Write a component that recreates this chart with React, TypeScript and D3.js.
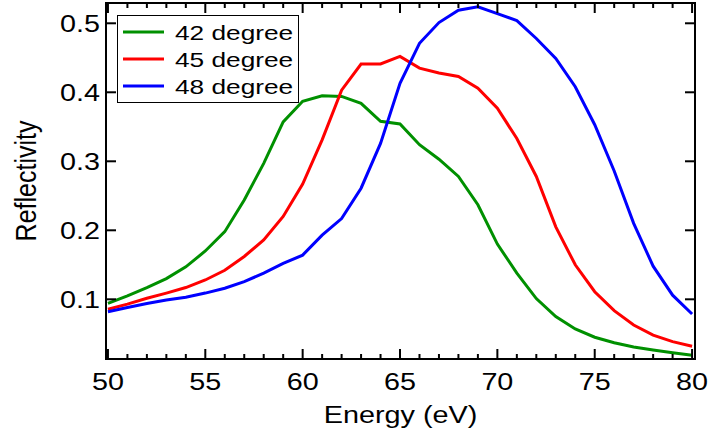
import React from 'react'
import * as d3 from 'd3'

// Data
const energy = [50, 51, 52, 53, 54, 55, 56, 57, 58, 59, 60, 61, 62, 63, 64, 65, 66, 67, 68, 69, 70, 71, 72, 73, 74, 75, 76, 77, 78, 79, 80]

const deg42 = [0.094, 0.105, 0.117, 0.13, 0.147, 0.17, 0.198, 0.244, 0.297, 0.357, 0.387, 0.395, 0.394, 0.384, 0.358, 0.354, 0.324, 0.303, 0.278, 0.237, 0.18, 0.138, 0.101, 0.075, 0.057, 0.045, 0.037, 0.031, 0.0265, 0.0226, 0.019]
const deg45 = [0.0855, 0.093, 0.1015, 0.109, 0.117, 0.128, 0.142, 0.162, 0.186, 0.22, 0.267, 0.331, 0.403, 0.441, 0.441, 0.452, 0.435, 0.428, 0.423, 0.406, 0.377, 0.333, 0.278, 0.205, 0.15, 0.111, 0.0835, 0.0628, 0.048, 0.0386, 0.032]
const deg48 = [0.082, 0.088, 0.094, 0.099, 0.103, 0.109, 0.116, 0.1255, 0.138, 0.152, 0.164, 0.193, 0.217, 0.261, 0.326, 0.413, 0.471, 0.501, 0.519, 0.524, 0.514, 0.504, 0.478, 0.449, 0.408, 0.353, 0.286, 0.21, 0.148, 0.106, 0.0787]

const seriesNames = ['42 degree', '45 degree', '48 degree']
const seriesColors = ['#009000', '#ff0000', '#0000ff']
const seriesValues = [deg42, deg45, deg48]

const xMajorTicks = [50, 55, 60, 65, 70, 75, 80]
const yMajorTicks = [0.1, 0.2, 0.3, 0.4, 0.5]

const W = 708
const H = 439
const frame = { left: 106, right: 695, top: 3, bottom: 359 }
const font = 'Liberation Sans, Arial, Helvetica, sans-serif'
const stretch = 1.25

export default function App() {
  const x = d3.scaleLinear().domain([49.9, 80.15]).range([frame.left, frame.right])
  const y = d3.scaleLinear().domain([0.01348, 0.5294]).range([frame.bottom, frame.top])

  const line = d3
    .line<number>()
    .x((d, i) => x(energy[i]))
    .y(d => y(d))

  const minorTicks = d3.range(50, 81).filter(v => v % 5 !== 0)

  return (
    <svg width={W} height={H} style={{ position: 'absolute', left: 0, top: 0, background: '#fff' }}>
      {/* curves */}
      {seriesValues.map((vals, i) => (
        <path key={i} d={line(vals) || ''} fill="none" stroke={seriesColors[i]} strokeWidth={3} strokeLinejoin="miter" />
      ))}

      {/* frame */}
      <rect
        x={frame.left}
        y={frame.top}
        width={frame.right - frame.left}
        height={frame.bottom - frame.top}
        fill="none"
        stroke="#000"
        strokeWidth={2}
      />

      {/* x ticks, bottom and top, pointing inward */}
      {xMajorTicks.map(t => (
        <g key={'xm' + t}>
          <line x1={x(t)} x2={x(t)} y1={frame.bottom} y2={frame.bottom - 10} stroke="#000" strokeWidth={2} />
          <line x1={x(t)} x2={x(t)} y1={frame.top} y2={frame.top + 10} stroke="#000" strokeWidth={2} />
          <text
            transform={`translate(${x(t)},390) scale(${stretch},1)`}
            textAnchor="middle"
            fontFamily={font}
            fontSize={23}
          >
            {t}
          </text>
        </g>
      ))}
      {minorTicks.map(t => (
        <g key={'xn' + t}>
          <line x1={x(t)} x2={x(t)} y1={frame.bottom} y2={frame.bottom - 5} stroke="#000" strokeWidth={2} />
          <line x1={x(t)} x2={x(t)} y1={frame.top} y2={frame.top + 5} stroke="#000" strokeWidth={2} />
        </g>
      ))}

      {/* y ticks, left and right */}
      {yMajorTicks.map(t => (
        <g key={'ym' + t}>
          <line x1={frame.left} x2={frame.left + 10} y1={y(t)} y2={y(t)} stroke="#000" strokeWidth={2} />
          <line x1={frame.right} x2={frame.right - 10} y1={y(t)} y2={y(t)} stroke="#000" strokeWidth={2} />
          <text
            transform={`translate(100,${y(t) + 8.3}) scale(${stretch},1)`}
            textAnchor="end"
            fontFamily={font}
            fontSize={23}
          >
            {d3.format('.1f')(t)}
          </text>
        </g>
      ))}

      {/* axis titles */}
      <text
        transform={`translate(${(frame.left + frame.right) / 2},423) scale(1.2,1)`}
        textAnchor="middle"
        fontFamily={font}
        fontSize={24}
      >
        Energy (eV)
      </text>
      <text
        transform={`translate(36,${(frame.top + frame.bottom) / 2}) rotate(-90) scale(1,1.2)`}
        textAnchor="middle"
        fontFamily={font}
        fontSize={25}
      >
        Reflectivity
      </text>

      {/* legend */}
      <rect x={117.5} y={15.5} width={181} height={87} fill="#fff" stroke="#000" strokeWidth={1} />
      {seriesNames.map((name, i) => (
        <g key={name}>
          <line x1={123} x2={164} y1={32 + i * 27} y2={32 + i * 27} stroke={seriesColors[i]} strokeWidth={3} />
          <text
            transform={`translate(175,${40 + i * 27}) scale(${stretch},1)`}
            fontFamily={font}
            fontSize={21}
          >
            {name}
          </text>
        </g>
      ))}
    </svg>
  )
}
